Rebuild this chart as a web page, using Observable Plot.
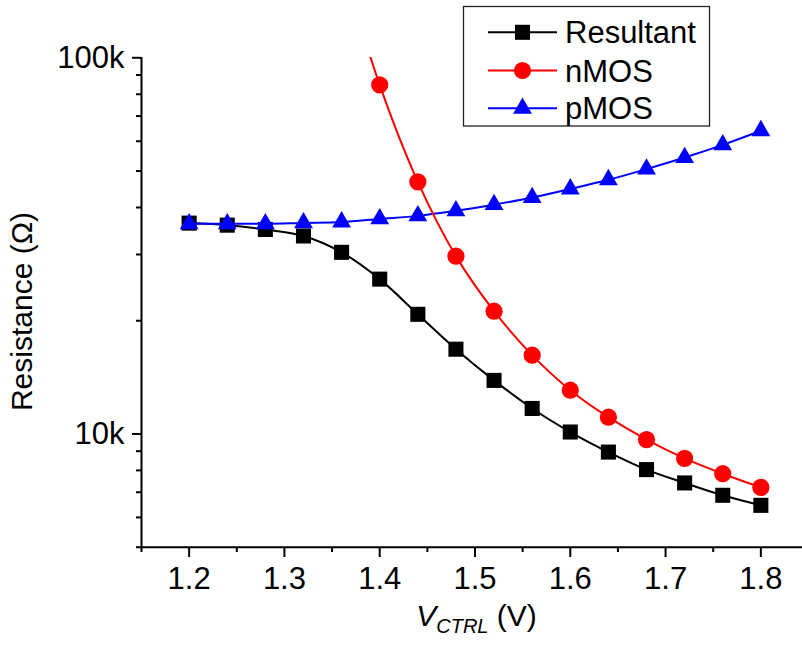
<!DOCTYPE html>
<html>
<head>
<meta charset="utf-8">
<script src="https://cdn.jsdelivr.net/npm/d3@7"></script>
<script src="https://cdn.jsdelivr.net/npm/@observablehq/plot@0.6"></script>
<style>
  html, body { margin: 0; padding: 0; background: white; }
</style>
</head>
<body>
<div id="chart"></div>
<script>
// ---- data ----
const vctrl = [1.20, 1.24, 1.28, 1.32, 1.36, 1.40, 1.44, 1.48, 1.52, 1.56, 1.60, 1.64, 1.68, 1.72, 1.76, 1.80];
const resultant = [36350, 35900, 34960, 33600, 30400, 25800, 20800, 16800, 13880, 11690, 10120, 8950, 8040, 7410, 6870, 6460];
const pmos = [36200, 36200, 36200, 36400, 36600, 37300, 38000, 39200, 40700, 42500, 44800, 47400, 50600, 54300, 58700, 64000];
const nmosV = [1.36, 1.40, 1.44, 1.48, 1.52, 1.56, 1.60, 1.64, 1.68, 1.72, 1.76, 1.80];
const nmos = [180000, 84700, 46800, 29700, 21200, 16200, 13070, 11080, 9660, 8610, 7840, 7210];

const seriesNames = ["Resultant", "nMOS", "pMOS"];
const seriesColors = ["#000000", "#ff0000", "#0000ff"];
const seriesSymbols = ["square", "circle", "triangle"];

const xMajor = [1.2, 1.3, 1.4, 1.5, 1.6, 1.7, 1.8];
const xMinor = [1.15, 1.25, 1.35, 1.45, 1.55, 1.65, 1.75, 1.85];
const yMajor = [10000, 100000];
const yMinor = [5000, 6000, 7000, 8000, 9000, 20000, 30000, 40000, 50000, 60000, 70000, 80000, 90000];
const yMajorLabels = ["10k", "100k"];

const xTitle = {main: "V", sub: "CTRL", unit: " (V)"};
const yTitle = "Resistance (\u03A9)";

// ---- tables ----
const resData = vctrl.map((v, i) => ({v, r: resultant[i]}));
const pData = vctrl.map((v, i) => ({v, r: pmos[i]}));
const nData = nmosV.map((v, i) => ({v, r: nmos[i]}));

const FONT = "'Liberation Sans', Arial, Helvetica, sans-serif";
const symR = {square: 8.5, circle: 8.6, triangle: 7.0};

const plot = Plot.plot({
  width: 802,
  height: 647,
  marginLeft: 141,
  marginRight: 0,
  marginTop: 57,
  marginBottom: 100,
  style: {fontFamily: FONT, fontSize: "31px", color: "black", background: "white"},
  x: {domain: [1.15, 1.85], range: [141, 808]},
  y: {type: "log", domain: [5000, 100000], range: [546.7, 57.3]},
  marks: [
    Plot.axisX({ticks: xMinor, tickSize: 5, tickFormat: () => "", strokeWidth: 2, label: null}),
    Plot.axisX({ticks: xMajor, tickSize: 10, tickPadding: 9, fontSize: 31, tickFormat: d => d.toFixed(1), strokeWidth: 2, label: null}),
    Plot.axisY({ticks: yMinor, tickSize: 5, tickFormat: () => "", strokeWidth: 2, label: null}),
    Plot.axisY({ticks: yMajor, tickSize: 9, tickPadding: 8, fontSize: 31, tickFormat: d => yMajorLabels[yMajor.indexOf(d)], strokeWidth: 2, label: null}),
    Plot.ruleY([5000], {stroke: "black", strokeWidth: 2}),
    Plot.ruleX([1.15], {stroke: "black", strokeWidth: 2}),
    Plot.text([yTitle], {frameAnchor: "left", dx: -119, dy: 9, rotate: -90, fontSize: 30, textAnchor: "middle", lineAnchor: "middle"}),
    // Resultant
    Plot.line(resData, {x: "v", y: "r", stroke: seriesColors[0], strokeWidth: 2, curve: "catmull-rom", clip: true}),
    Plot.dot(resData, {x: "v", y: "r", symbol: seriesSymbols[0], r: symR.square, fill: seriesColors[0], clip: true}),
    // pMOS
    Plot.line(pData, {x: "v", y: "r", stroke: seriesColors[2], strokeWidth: 2, curve: "catmull-rom", clip: true}),
    Plot.dot(pData, {x: "v", y: "r", symbol: seriesSymbols[2], r: symR.triangle, fill: seriesColors[2], clip: true}),
    // nMOS
    Plot.line(nData, {x: "v", y: "r", stroke: seriesColors[1], strokeWidth: 2, curve: "catmull-rom", clip: true}),
    Plot.dot(nData, {x: "v", y: "r", symbol: seriesSymbols[1], r: symR.circle, fill: seriesColors[1], clip: true})
  ]
});

document.getElementById("chart").appendChild(plot);

// ---- x-axis title with italic subscript ----
const svg = d3.select(plot);
const xs = plot.scale("x");
const xt = svg.append("text")
  .attr("x", 476.5)
  .attr("y", 626)
  .attr("text-anchor", "middle")
  .attr("font-family", FONT)
  .attr("font-size", 30)
  .attr("fill", "black");
xt.append("tspan").attr("font-style", "italic").text(xTitle.main);
xt.append("tspan").attr("font-style", "italic").attr("font-size", 20).attr("dy", 7).text(xTitle.sub);
xt.append("tspan").attr("dy", -7).text(xTitle.unit);

// ---- legend ----
const lg = svg.append("g").attr("text-anchor", "start");
lg.append("rect")
  .attr("x", 463.5).attr("y", 6.5).attr("width", 246).attr("height", 119.5)
  .attr("fill", "white").attr("stroke", "#222").attr("stroke-width", 1.3);
const rowY = [32.3, 70.5, 108.3];
const symMap = {square: d3.symbolSquare, circle: d3.symbolCircle, triangle: d3.symbolTriangle};
seriesNames.forEach((name, i) => {
  const y = rowY[i];
  lg.append("line").attr("x1", 488).attr("x2", 557).attr("y1", y).attr("y2", y)
    .attr("stroke", seriesColors[i]).attr("stroke-width", 2);
  const r = symR[seriesSymbols[i]];
  lg.append("path")
    .attr("d", d3.symbol().type(symMap[seriesSymbols[i]]).size(Math.PI * r * r)())
    .attr("transform", `translate(522.5,${y})`)
    .attr("fill", seriesColors[i]);
  lg.append("text").attr("x", 565).attr("y", y + 11)
    .attr("text-anchor", "start")
    .attr("font-family", FONT).attr("font-size", 31).attr("fill", "black")
    .text(name);
});
</script>
</body>
</html>
